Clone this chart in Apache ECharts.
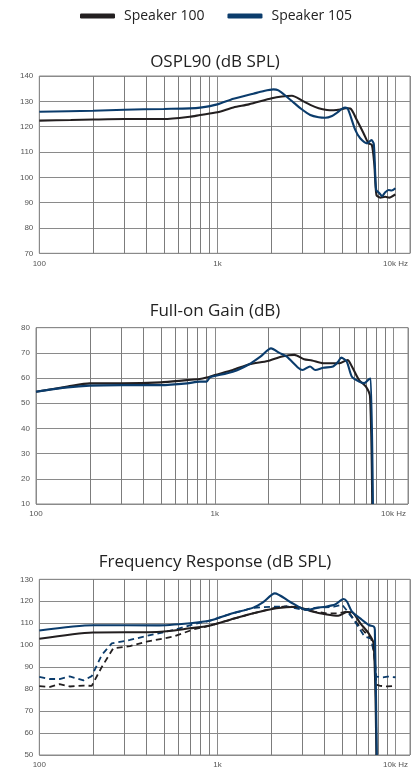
<!DOCTYPE html>
<html><head><meta charset="utf-8">
<script src="https://cdn.jsdelivr.net/npm/echarts@6/dist/echarts.min.js"></script>
<style>html,body{margin:0;padding:0;background:#fff}#c{width:420px;height:772px}</style>
</head><body><div id="c"></div><script>
// ---- data ----
const seriesNames = ['Speaker 100', 'Speaker 105'];
const chartTitles = ['OSPL90 (dB SPL)', 'Full-on Gain (dB)', 'Frequency Response (dB SPL)'];
const xTickValues = [100, 1000, 10000];
const xTickLabels = ['100', '1k', '10k Hz'];
const minorFreqs = [200,300,400,500,600,700,800,900,2000,3000,4000,5000,6000,7000,8000,9000];

const osplS100 = [[100,122.4],[150,122.6],[200,122.8],[300,123.0],[500,123.0],[700,123.9],[800,124.6],[1000,125.7],[1230,127.6],[1500,128.8],[2020,131.2],[2300,131.9],[2620,132.2],[3000,130.2],[3320,128.6],[3700,127.3],[4120,126.6],[4500,126.5],[4890,126.8],[5250,127.3],[5570,127.2],[6060,122.6],[6610,117.4],[7050,113.4],[7360,112.8],[7600,105],[7810,93],[8200,92],[8750,92.3],[9200,92],[9970,93.3]];
const osplS105 = [[100,125.9],[200,126.3],[300,126.7],[500,127.0],[700,127.2],[800,127.5],[1000,128.8],[1230,131.0],[1590,133.0],[1800,134.0],[2060,134.7],[2200,134.3],[2450,131.8],[2700,129.3],[2930,127.2],[3320,124.6],[3700,123.7],[4030,123.5],[4400,124.2],[4670,125.4],[5000,127.0],[5220,127.5],[5400,127.0],[5940,118.7],[6330,115.4],[6930,113.4],[7320,114.7],[7550,113.1],[7780,95],[8050,94],[8410,92.6],[8750,94.1],[9140,95],[9500,94.8],[9970,95.7]];

const gainS100 = [[100,54.6],[150,56.6],[200,57.9],[300,57.9],[500,58.3],[700,59.2],[824,59.6],[900,60.2],[1000,61.2],[1262,63.2],[1560,65.5],[1979,66.8],[2380,68.6],[2788,69.2],[3160,67.5],[3500,67.0],[4050,65.9],[4990,65.9],[5530,67.2],[5850,64.6],[6420,59.2],[7010,56.6],[7390,52.6],[7600,10]];
const gainS105 = [[100,54.6],[150,56.3],[200,57.0],[300,57.2],[500,57.2],[700,57.9],[824,58.6],[900,58.6],[940,60.3],[1000,60.8],[1262,62.5],[1560,65.5],[1800,68.5],[2066,71.8],[2300,70.0],[2520,68.6],[2928,64.1],[3100,63.2],[3410,64.6],[3650,63.2],[4050,64.1],[4590,64.6],[4900,66.5],[5100,68.1],[5470,66.6],[5850,60.5],[6420,58.6],[6850,58.0],[7300,59.6],[7455,59.8],[7670,10]];

const frS100 = [[100,102.9],[200,105.8],[457,106.0],[703,107.7],[910,109.0],[1180,111.6],[1590,114.5],[2140,116.8],[2780,117.5],[3320,115.6],[4110,114.0],[4770,113.4],[5330,115.1],[5700,115.0],[6330,110.0],[7070,105.3],[7540,100.5],[7800,50]];
const frS105 = [[100,106.7],[201,109.1],[457,109.0],[703,110.0],[910,111.2],[1180,114.2],[1590,117.1],[1800,119.5],[2100,123.6],[2550,119.8],[3170,116.0],[3620,117.0],[4030,117.5],[4580,118.5],[5100,121.0],[5330,119.9],[5690,115.3],[6330,112.2],[7070,109.2],[7540,108.5],[7650,107],[7850,50]];
const frS100Dashed = [[100,81.4],[115,81.0],[130,82.3],[148,81.2],[177,81.6],[197,81.5],[224,90],[260,98.6],[323,99.6],[400,101.6],[565,103.9],[735,107.2],[910,108.9],[1180,111.6],[1590,114.5],[2140,117.2],[2500,117.8],[3000,116.5],[3500,115.3],[4100,114.5],[4800,114.5],[5400,115.5],[6000,110.5],[6700,106],[7300,103],[7600,96],[7800,82],[8200,81.5],[9000,81.2],[10000,81.5]];
const frS105Dashed = [[100,85.6],[115,84.6],[130,84.6],[148,85.8],[177,84.0],[197,85.9],[224,95.5],[255,100.8],[323,102.4],[400,104.2],[565,106.9],[735,109.5],[910,111.2],[1180,114.2],[1590,117.0],[2000,117.5],[2500,117.5],[3000,116.2],[3500,117.0],[4000,117.2],[4500,117.5],[5000,118.5],[5300,116],[5900,110.9],[6700,103.9],[7300,103],[7600,95],[7800,85.7],[8500,85.3],[9000,85.7],[10000,85.4]];

// ---- layout / style ----
const BLACK = '#231f20', BLUE = '#0b3c6c', GRIDC = '#8a8a8a';
const panels = [
  {top:76, height:177.3, left:39.3, right:10, ymin:70, ymax:140, titleTop:53.5, series:[[osplS100,BLACK,'solid'],[osplS105,BLUE,'solid']]},
  {top:327.7, height:176.3, left:36, right:12, ymin:10, ymax:80, titleTop:302.5, series:[[gainS100,BLACK,'solid'],[gainS105,BLUE,'solid']]},
  {top:579.3, height:175.7, left:39.3, right:10, ymin:50, ymax:130, titleTop:553.5, series:[[frS100,BLACK,'solid'],[frS105,BLUE,'solid'],[frS100Dashed,BLACK,'dashed'],[frS105Dashed,BLUE,'dashed']]}
];

const grid = [], xAxis = [], yAxis = [], title = [], series = [];
panels.forEach((p, i) => {
  grid.push({left:p.left, right:p.right, top:p.top, height:p.height, show:true, borderColor:GRIDC, borderWidth:1, containLabel:false});
  title.push({text:chartTitles[i], left:215, textAlign:'center', top:p.titleTop, padding:0,
    textStyle:{fontFamily:'Open Sans', fontSize:17, fontWeight:'normal', color:'#222'}});
  xAxis.push({type:'log', gridIndex:i, min:100, max:12050, logBase:10,
    axisLine:{show:false}, axisTick:{show:false},
    splitLine:{show:true, lineStyle:{color:GRIDC, width:1}},
    axisLabel:{fontFamily:'Liberation Sans', fontSize:8, color:'#555', margin:6,
      formatter: v => { const k = xTickValues.indexOf(Math.round(v)); return k >= 0 ? xTickLabels[k] : ''; }}});
  yAxis.push({type:'value', gridIndex:i, min:p.ymin, max:p.ymax, interval:10,
    axisLine:{show:false}, axisTick:{show:false},
    splitLine:{show:true, lineStyle:{color:GRIDC, width:1}},
    axisLabel:{fontFamily:'Liberation Sans', fontSize:8, color:'#555', margin:6}});
  p.series.forEach((s, j) => {
    const solid = s[2] === 'solid';
    const ser = {type:'line', name: seriesNames[s[1] === BLACK ? 0 : 1], xAxisIndex:i, yAxisIndex:i,
      data:s[0], showSymbol:false, symbol:'none', smooth: solid ? 0.25 : false, z: solid ? 4 : 3,
      color:s[1], lineStyle:{color:s[1], width: solid ? 2.1 : 1.8, type: solid ? 'solid' : [6,4]},
      animation:false, clip:true};
    if (j === 0) {
      ser.markLine = {silent:true, z:1, symbol:['none','none'], label:{show:false}, animation:false,
        lineStyle:{color:'#7c7c7c', width:1, type:'solid'}, emphasis:{disabled:true},
        data: minorFreqs.map(f => ({xAxis:f}))};
    }
    series.push(ser);
  });
});

const chart = echarts.init(document.getElementById('c'), null, {renderer:'canvas'});
chart.setOption({
  animation:false,
  backgroundColor:'#fff',
  title, grid, xAxis, yAxis, series,
  legend:{data:[{name:seriesNames[0]},{name:seriesNames[1]}], top:9, left:80, padding:0,
    icon:'roundRect', itemWidth:35, itemHeight:5, itemGap:23,
    textStyle:{fontFamily:'Open Sans', fontSize:14, color:'#222', padding:[0,0,0,4]}}
});
</script></body></html>
